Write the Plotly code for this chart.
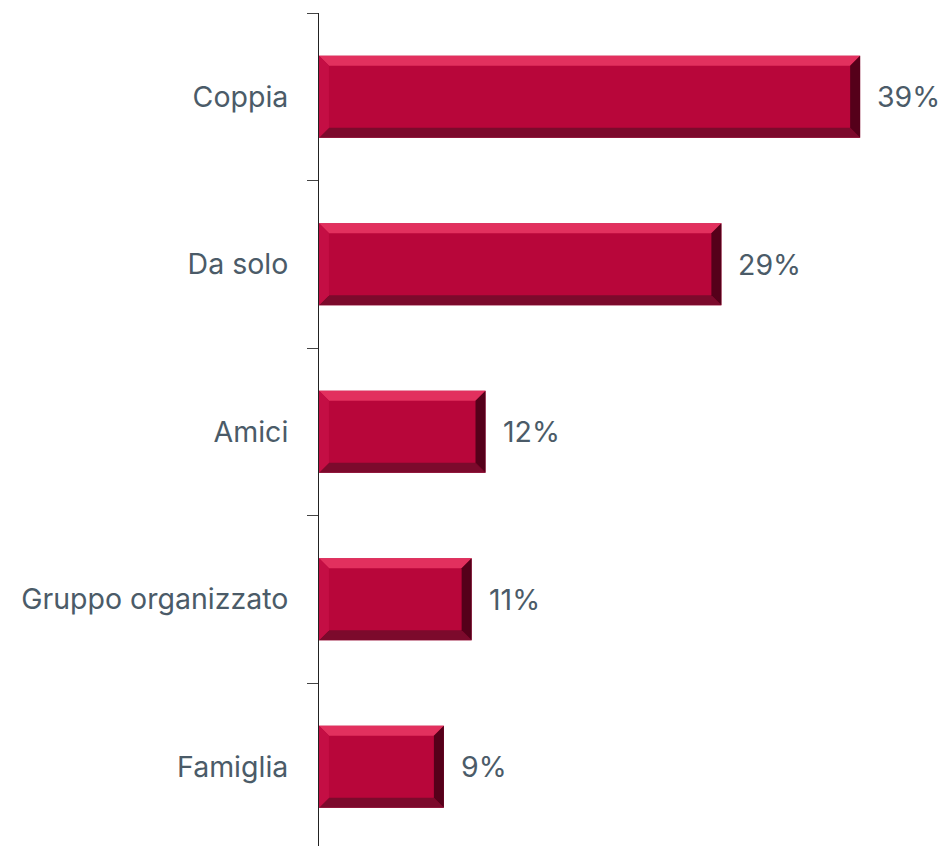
import plotly.graph_objects as go

# Categories listed bottom-to-top on the y axis
categories = ["Famiglia", "Gruppo organizzato", "Amici", "Da solo", "Coppia"]
values = [9, 11, 12, 29, 39]
labels = ["9%", "11%", "12%", "29%", "39%"]

BAR_COLOR = "#B8063A"
TOP_BEVEL = "#E2305E"
LEFT_BEVEL = "#C40E44"
BOTTOM_BEVEL = "#7C0A2C"
RIGHT_BEVEL = "#55001A"
TEXT_COLOR = "#4B5B68"
FONT = "Inter, Lato, sans-serif"
FONT_SIZE = 28.5

BAR_WIDTH = 0.49
X_MAX = 44.9
Y_RANGE = [-0.473, 4.5]

fig = go.Figure()
fig.add_trace(go.Bar(
    x=values,
    y=categories,
    orientation="h",
    width=BAR_WIDTH,
    marker=dict(color=BAR_COLOR, line=dict(width=0)),
    hoverinfo="skip",
))

# Value labels to the right of each bar
annotations = []
for cat, v, lab in zip(categories, values, labels):
    annotations.append(dict(
        x=v, y=cat, xref="x", yref="y", text=lab, showarrow=False,
        xanchor="left", yanchor="middle", xshift=15,
        font=dict(family=FONT, size=FONT_SIZE, color=TEXT_COLOR),
    ))

# Bevelled edges on each bar, placed in data coordinates
dx = 0.72   # bevel depth along the value axis
dy = 0.06   # bevel depth along the category axis
shapes = []
for i, v in enumerate(values):
    y0 = i - BAR_WIDTH / 2
    y1 = i + BAR_WIDTH / 2
    faces = [
        (TOP_BEVEL, [(0, y1), (v, y1), (v - dx, y1 - dy), (dx, y1 - dy)]),
        (BOTTOM_BEVEL, [(0, y0), (v, y0), (v - dx, y0 + dy), (dx, y0 + dy)]),
        (LEFT_BEVEL, [(0, y0), (0, y1), (dx, y1 - dy), (dx, y0 + dy)]),
        (RIGHT_BEVEL, [(v, y0), (v, y1), (v - dx, y1 - dy), (v - dx, y0 + dy)]),
    ]
    for color, pts in faces:
        path = "M " + " L ".join(f"{px},{py}" for px, py in pts) + " Z"
        shapes.append(dict(type="path", path=path, xref="x", yref="y",
                           fillcolor=color, line=dict(width=0), layer="above"))

fig.update_layout(
    width=942,
    height=846,
    margin=dict(l=319, r=0, t=13, b=0),
    paper_bgcolor="white",
    plot_bgcolor="white",
    showlegend=False,
    shapes=shapes,
    annotations=annotations,
    xaxis=dict(range=[0, X_MAX], visible=False, showgrid=False, zeroline=False),
    yaxis=dict(
        type="category",
        categoryorder="array",
        categoryarray=categories,
        range=Y_RANGE,
        showline=True,
        linecolor="#222222",
        linewidth=1,
        ticks="outside",
        tickson="boundaries",
        ticklen=11,
        tickcolor="#444444",
        tickwidth=1,
        ticklabelstandoff=24,
        showgrid=False,
        zeroline=False,
        tickfont=dict(family=FONT, size=FONT_SIZE, color=TEXT_COLOR),
    ),
)

fig.write_html("out.html")
